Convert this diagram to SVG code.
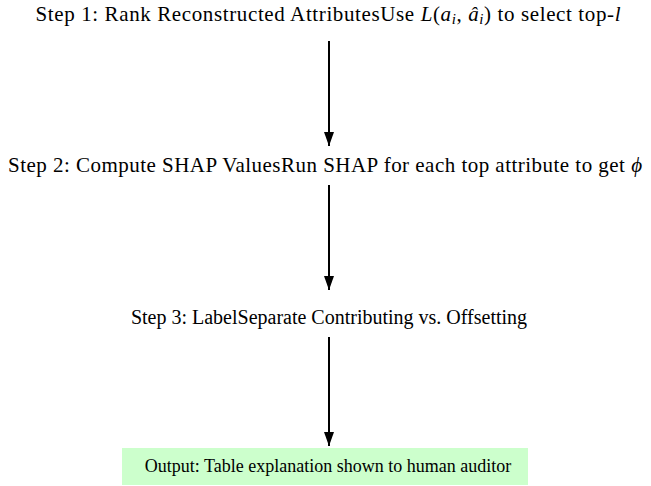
<svg xmlns="http://www.w3.org/2000/svg" width="651" height="486" viewBox="0 0 651 486">
<style>
text{font-family:"Liberation Serif","Times New Roman",serif;fill:#000;text-anchor:middle}
.c{stroke:#000;stroke-width:2;fill:none}
</style>
<defs>
<marker id="ah" viewBox="0 0 14 10" refX="14" refY="5" markerWidth="7" markerHeight="5" orient="auto" markerUnits="strokeWidth">
<path d="M0,0 L14,5 L0,10 Z" fill="#000"/>
</marker>
</defs>
<rect width="651" height="486" fill="#fff"/>
<g id="connectors">
<line class="c" x1="329" y1="41" x2="329" y2="146" marker-end="url(#ah)"/>
<line class="c" x1="329" y1="185" x2="329" y2="290" marker-end="url(#ah)"/>
<line class="c" x1="329" y1="337" x2="329" y2="446" marker-end="url(#ah)"/>
</g>
<g id="step1"><text x="328" y="21" font-size="21" textLength="585" lengthAdjust="spacing">Step 1: Rank Reconstructed AttributesUse <tspan font-style="italic">L</tspan>(<tspan font-style="italic">a</tspan><tspan font-style="italic" font-size="15" dy="3">i</tspan><tspan dy="-3">, </tspan><tspan font-style="italic">â</tspan><tspan font-style="italic" font-size="15" dy="3">i</tspan><tspan dy="-3">) to select top-</tspan><tspan font-style="italic">l</tspan></text></g>
<g id="step2"><text x="325" y="172" font-size="21" textLength="634" lengthAdjust="spacing">Step 2: Compute SHAP ValuesRun SHAP for each top attribute to get <tspan font-style="italic">ϕ</tspan></text></g>
<g id="step3"><text x="329" y="324" font-size="20">Step 3: LabelSeparate Contributing vs. Offsetting</text></g>
<g id="output"><rect x="122" y="448" width="406" height="37" fill="#ccffcc"/><text x="328" y="472" font-size="18">Output: Table explanation shown to human auditor</text></g>
</svg>
